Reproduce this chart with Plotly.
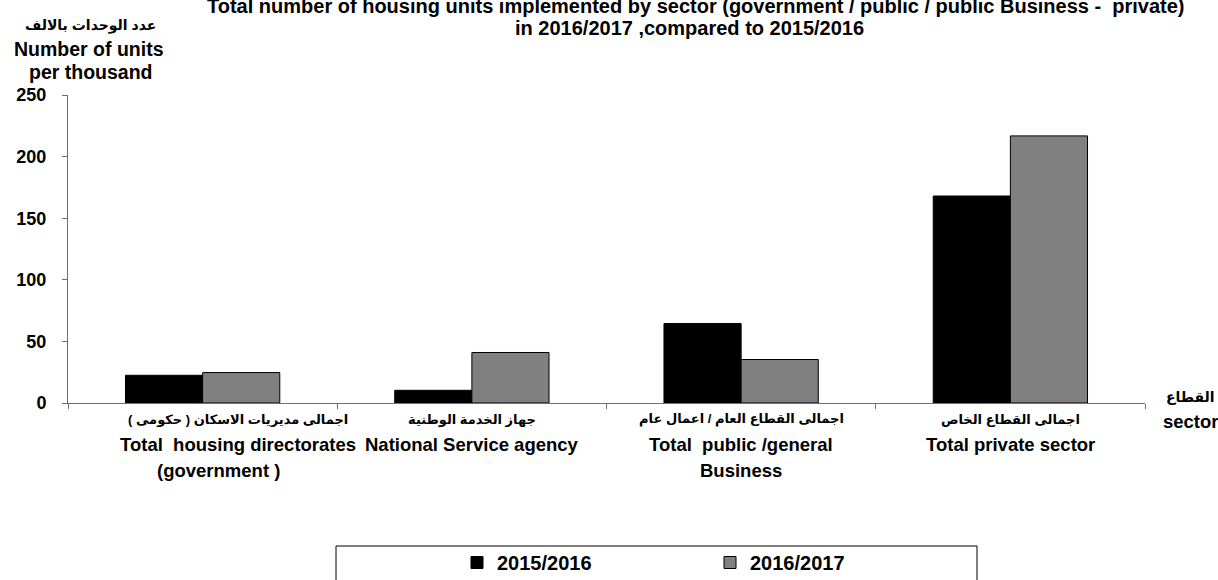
import plotly.graph_objects as go

categories = ["gov", "nsa", "public", "private"]
cat_ar = ["اجمالى مديريات الاسكان ( حكومى )", "جهاز الخدمة الوطنية",
          "اجمالى القطاع العام / اعمال عام", "اجمالى القطاع الخاص"]
cat_en1 = ["Total  housing directorates", "National Service agency",
           "Total  public /general", "Total private sector"]
cat_en2 = ["(government )", "", "Business", ""]

series_names = ["2015/2016", "2016/2017"]
values_2015_2016 = [22.5, 10.3, 64.5, 168]
values_2016_2017 = [24.7, 41, 35.3, 216.8]

y_ticks = [0, 50, 100, 150, 200, 250]

FONT = "Arial, Liberation Sans, DejaVu Sans, sans-serif"
AXIS_COLOR = "#707070"

def fnt(size):
    return dict(size=size, family=FONT, color="black", weight="bold")

fig = go.Figure()
fig.add_trace(go.Bar(x=categories, y=values_2015_2016, name=series_names[0],
                     marker=dict(color="#000000", line=dict(color="#000000", width=1))))
fig.add_trace(go.Bar(x=categories, y=values_2016_2017, name=series_names[1],
                     marker=dict(color="#808080", line=dict(color="#000000", width=1))))

L, R, T, B = 68, 73, 95, 177
W, H = 1218, 580
pw, ph = W - L - R, H - T - B

def px_x(p):
    return (p - L) / pw

def px_y(p):
    return (H - B - p) / ph

ann = []
# Title (two lines)
ann.append(dict(text="Total number of housing units implemented by sector (government / public / public Business -  private)",
                x=px_x(696), y=px_y(6), xref="paper", yref="paper", showarrow=False,
                xanchor="center", yanchor="middle", font=fnt(20)))
ann.append(dict(text="in 2016/2017 ,compared to 2015/2016",
                x=px_x(689), y=px_y(28), xref="paper", yref="paper", showarrow=False,
                xanchor="center", yanchor="middle", font=fnt(20)))
# Y-axis title
ann.append(dict(text="عدد الوحدات بالالف", x=px_x(90), y=px_y(25), xref="paper", yref="paper",
                showarrow=False, xanchor="center", yanchor="middle", font=fnt(14)))
ann.append(dict(text="Number of units", x=px_x(89), y=px_y(49), xref="paper", yref="paper",
                showarrow=False, xanchor="center", yanchor="middle", font=fnt(19.5)))
ann.append(dict(text="per thousand", x=px_x(91), y=px_y(72), xref="paper", yref="paper",
                showarrow=False, xanchor="center", yanchor="middle", font=fnt(19.5)))
# X-axis title
ann.append(dict(text="القطاع", x=px_x(1190), y=px_y(397), xref="paper", yref="paper",
                showarrow=False, xanchor="center", yanchor="middle", font=fnt(14)))
ann.append(dict(text="sector", x=px_x(1191), y=px_y(421), xref="paper", yref="paper",
                showarrow=False, xanchor="center", yanchor="middle", font=fnt(18.5)))

# Category labels
shifts1 = [35, 0, 0, 0]
shifts3 = [16, 0, 0, 0]
for i, c in enumerate(categories):
    ann.append(dict(text=cat_ar[i], x=c, y=px_y(419), xref="x", yref="paper",
                    showarrow=False, xanchor="center", yanchor="middle", xshift=shifts1[i],
                    font=fnt(13)))
    ann.append(dict(text=cat_en1[i], x=c, y=px_y(445), xref="x", yref="paper",
                    showarrow=False, xanchor="center", yanchor="middle", xshift=shifts1[i],
                    font=fnt(18.5)))
    if cat_en2[i]:
        ann.append(dict(text=cat_en2[i], x=c, y=px_y(470), xref="x", yref="paper",
                        showarrow=False, xanchor="center", yanchor="middle", xshift=shifts3[i],
                        font=fnt(18.5)))

fig.update_layout(
    width=W, height=H,
    margin=dict(l=L, r=R, t=T, b=B, autoexpand=False),
    paper_bgcolor="white", plot_bgcolor="white",
    barmode="group", bargap=0.427, bargroupgap=0,
    showlegend=True,
    legend=dict(orientation="h", x=px_x(457), y=px_y(543), xanchor="left", yanchor="top",
                entrywidth=208, entrywidthmode="pixels", traceorder="normal",
                font=fnt(20), bgcolor="rgba(0,0,0,0)"),
    annotations=ann,
    shapes=[dict(type="rect", xref="paper", yref="paper",
                 x0=px_x(336), x1=px_x(977), y0=px_y(546), y1=px_y(600),
                 line=dict(color="#000000", width=1), fillcolor="rgba(0,0,0,0)", layer="below")],
    xaxis=dict(type="category", showticklabels=False, tickson="boundaries", ticks="outside",
               ticklen=5, tickcolor=AXIS_COLOR, showline=True, linecolor=AXIS_COLOR, linewidth=1,
               showgrid=False, zeroline=False),
    yaxis=dict(range=[0, 250], tickvals=y_ticks, ticks="outside", ticklen=5, tickcolor=AXIS_COLOR,
               showline=True, linecolor=AXIS_COLOR, linewidth=1, showgrid=False, zeroline=False,
               ticklabelstandoff=12, tickfont=fnt(18)),
)

fig.write_html("out.html", config={"displayModeBar": False},
               post_script="document.body.style.margin='0';document.body.style.overflow='hidden';")
